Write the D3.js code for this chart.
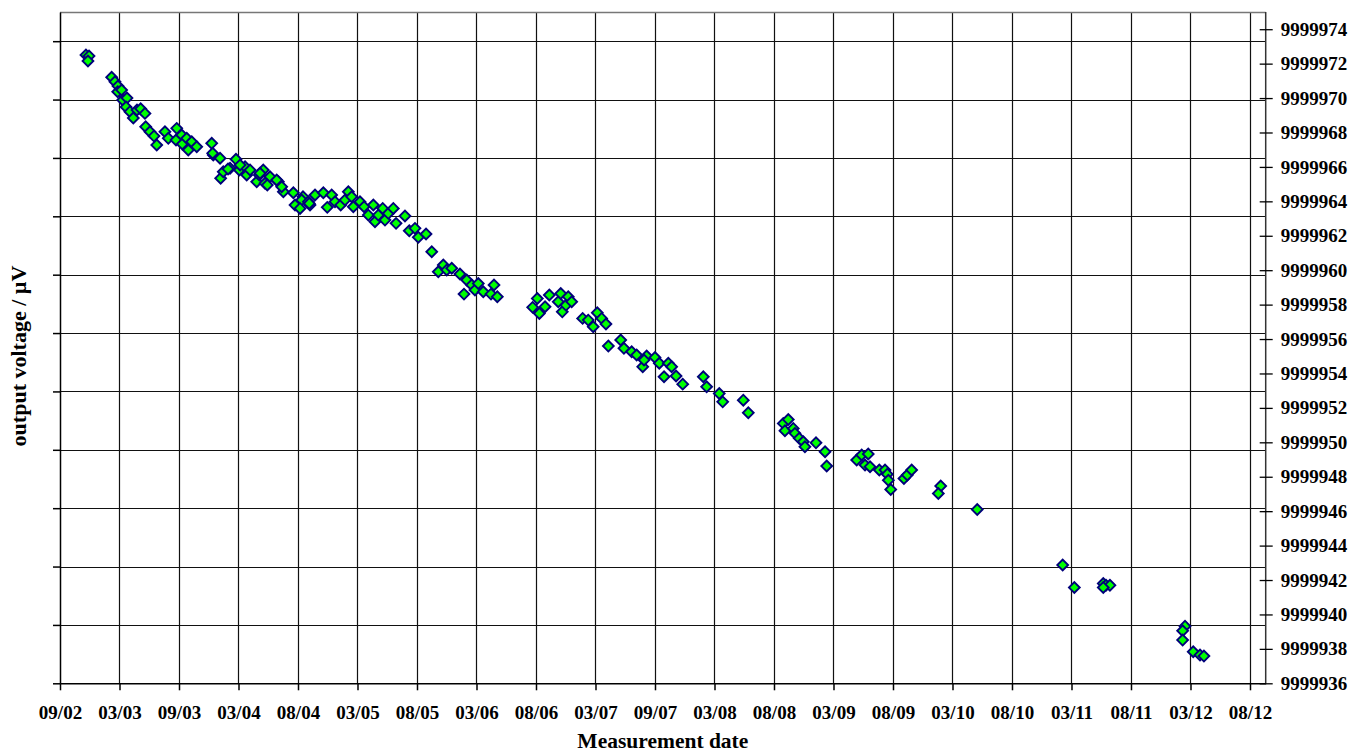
<!DOCTYPE html>
<html>
<head>
<meta charset="utf-8">
<script src="https://cdn.jsdelivr.net/npm/d3@7"></script>
<style>
  body { margin: 0; background: #fff; }
  text { font-family: "Liberation Serif", "Times New Roman", serif; font-weight: bold; fill: #000; }
</style>
</head>
<body>
<script>
// measurement dates as decimal years, and output voltage in µV
var measYear = [
  2002.885, 2002.911, 2002.902, 2003.101, 2003.129, 2003.154, 2003.152, 2003.185, 2003.194, 2003.230,
  2003.222, 2003.255, 2003.283, 2003.314, 2003.345, 2003.381, 2003.387, 2003.423, 2003.457, 2003.480,
  2003.549, 2003.577, 2003.648, 2003.642, 2003.690, 2003.695, 2003.732, 2003.745, 2003.774, 2003.816,
  2003.942, 2003.955, 2004.012, 2004.017, 2004.039, 2004.096, 2004.146, 2004.174, 2004.222, 2004.236,
  2004.320, 2004.342, 2004.390, 2004.375, 2004.432, 2004.502, 2004.544, 2004.530, 2004.628, 2004.709,
  2003.950, 2004.079, 2004.180, 2004.264, 2004.348, 2004.409, 2004.488, 2004.642, 2004.698, 2004.754,
  2004.768, 2004.810, 2004.684, 2004.762, 2004.880, 2004.913, 2004.950, 2004.978, 2005.026, 2005.062,
  2005.090, 2005.118, 2005.132, 2005.188, 2005.222, 2005.258, 2005.300, 2005.314, 2005.342, 2005.379,
  2005.398, 2005.426, 2005.468, 2005.491, 2005.566, 2005.602, 2005.650, 2005.678, 2005.743, 2005.791,
  2005.846, 2005.888, 2005.917, 2005.959, 2006.028, 2006.085, 2006.062, 2006.127, 2006.154, 2006.182,
  2006.224, 2006.289, 2006.314, 2006.342, 2006.639, 2006.678, 2006.695, 2006.743, 2006.779, 2006.854,
  2006.875, 2006.888, 2006.919, 2006.938, 2006.967, 2007.059, 2007.106, 2007.148, 2007.182, 2007.219,
  2007.255, 2007.275, 2007.379, 2007.406, 2007.471, 2007.513, 2007.564, 2007.597, 2007.575, 2007.667,
  2007.703, 2007.743, 2007.779, 2007.807, 2007.844, 2007.900, 2008.073, 2008.101, 2008.207, 2008.236,
  2008.409, 2008.451, 2008.745, 2008.787, 2008.759, 2008.829, 2008.843, 2008.879, 2008.913, 2008.927,
  2009.020, 2009.096, 2009.110, 2009.362, 2009.404, 2009.459, 2009.432, 2009.474, 2009.552, 2009.600,
  2009.619, 2009.628, 2009.648, 2009.759, 2009.787, 2009.824, 2010.068, 2010.048, 2010.375, 2011.093,
  2011.191, 2011.434, 2011.457, 2011.490, 2011.434, 2012.121, 2012.101, 2012.101, 2012.190, 2012.247,
  2012.280
];

var measVoltage = [
  9999972.50, 9999972.44, 9999972.15, 9999971.21, 9999970.95, 9999970.70, 9999970.37, 9999970.47, 9999969.89, 9999970.00,
  9999969.48, 9999969.21, 9999968.84, 9999969.31, 9999969.38, 9999969.11, 9999968.33, 9999968.04, 9999967.79, 9999967.27,
  9999968.04, 9999967.66, 9999968.24, 9999967.56, 9999967.85, 9999967.33, 9999967.66, 9999966.98, 9999967.46, 9999967.17,
  9999967.37, 9999966.69, 9999966.50, 9999965.34, 9999965.72, 9999965.92, 9999966.44, 9999965.82, 9999966.01, 9999965.53,
  9999965.14, 9999965.53, 9999965.05, 9999965.82, 9999965.43, 9999965.14, 9999964.56, 9999964.85, 9999964.50, 9999964.27,
  9999966.79, 9999965.88, 9999966.11, 9999965.82, 9999965.63, 9999964.95, 9999965.24, 9999963.79, 9999964.08, 9999963.98,
  9999963.79, 9999964.37, 9999963.59, 9999963.88, 9999964.50, 9999963.65, 9999964.37, 9999963.98, 9999963.79, 9999964.08,
  9999964.56, 9999964.27, 9999963.69, 9999963.98, 9999963.69, 9999963.20, 9999963.79, 9999962.81, 9999963.20, 9999963.59,
  9999962.91, 9999963.30, 9999963.59, 9999962.72, 9999963.15, 9999962.29, 9999962.43, 9999961.91, 9999962.10, 9999961.07,
  9999959.91, 9999960.30, 9999960.01, 9999960.11, 9999959.78, 9999959.43, 9999958.61, 9999959.14, 9999958.85, 9999959.23,
  9999958.75, 9999958.61, 9999959.14, 9999958.46, 9999957.84, 9999958.36, 9999957.49, 9999957.88, 9999958.56, 9999958.17,
  9999958.65, 9999957.58, 9999957.97, 9999958.46, 9999958.17, 9999957.20, 9999957.10, 9999956.71, 9999957.53, 9999957.20,
  9999956.87, 9999955.59, 9999955.94, 9999955.46, 9999955.26, 9999955.07, 9999954.39, 9999955.01, 9999954.78, 9999954.93,
  9999954.59, 9999953.81, 9999954.59, 9999954.39, 9999953.85, 9999953.38, 9999953.81, 9999953.23, 9999952.84, 9999952.35,
  9999952.45, 9999951.72, 9999951.10, 9999951.33, 9999950.67, 9999950.81, 9999950.52, 9999950.23, 9999950.03, 9999949.74,
  9999949.97, 9999949.45, 9999948.62, 9999948.97, 9999949.26, 9999949.32, 9999948.68, 9999948.58, 9999948.39, 9999948.39,
  9999948.15, 9999947.80, 9999947.26, 9999947.90, 9999948.10, 9999948.39, 9999947.46, 9999947.03, 9999946.10, 9999942.87,
  9999941.57, 9999941.80, 9999941.70, 9999941.70, 9999941.57, 9999939.32, 9999939.05, 9999938.51, 9999937.83, 9999937.64,
  9999937.58
];

// axis labels
var xTickLabels = ["09/02", "03/03", "09/03", "03/04", "08/04", "03/05", "08/05", "03/06", "08/06", "03/07",
  "09/07", "03/08", "08/08", "03/09", "08/09", "03/10", "08/10", "03/11", "08/11", "03/12", "08/12"];
var xStart = 2002.667, xEnd = 2012.799, xStep = 0.5;
var yMin = 9999936, yMax = 9999975, yStep = 2;
var xTitle = "Measurement date";
var yTitle = "output voltage / µV";

var data = measYear.map(function(d, i) { return {x: d, y: measVoltage[i]} });

var width = 1351, height = 752;
var plotLeft = 60, plotRight = 1265.7, plotTop = 12, plotBottom = 683.3;

var svg = d3.select("body").append("svg").attr("width", width).attr("height", height)

var x = d3.scaleLinear().domain([xStart, xEnd]).range([plotLeft, plotRight])
var y = d3.scaleLinear().domain([yMin, yMax]).range([plotBottom, plotTop])
// primary (left) axis only carries the gridlines, no labels
var yGrid = d3.scaleLinear().domain([0, 11.5]).range([plotBottom, plotTop])

var xTicks = xTickLabels.map(function(d, i) { return xStart + i * xStep })
var yTicks = d3.range(yMin, yMax, yStep)
var gridTicks = d3.range(0, 12)

// gridlines
svg.append("g").selectAll("line").data(gridTicks.slice(1)).join("line")
  .attr("x1", plotLeft).attr("x2", plotRight)
  .attr("y1", function(d) { return Math.round(yGrid(d)) + 0.5 })
  .attr("y2", function(d) { return Math.round(yGrid(d)) + 0.5 })
  .attr("stroke", "#111").attr("stroke-width", 1.2)

svg.append("g").selectAll("line").data(xTicks.slice(1)).join("line")
  .attr("x1", function(d) { return Math.round(x(d)) + 0.5 })
  .attr("x2", function(d) { return Math.round(x(d)) + 0.5 })
  .attr("y1", plotTop).attr("y2", plotBottom)
  .attr("stroke", "#111").attr("stroke-width", 1.2)

// top border
svg.append("line").attr("x1", plotLeft).attr("x2", plotRight)
  .attr("y1", plotTop + 0.5).attr("y2", plotTop + 0.5)
  .attr("stroke", "#777").attr("stroke-width", 1.5)

// left axis
var gLeft = svg.append("g").attr("transform", "translate(" + plotLeft + ",0)")
  .call(d3.axisLeft(yGrid).tickValues(gridTicks).tickSize(7).tickSizeOuter(0).tickFormat(""))
gLeft.selectAll("line, path").attr("stroke", "#000").attr("stroke-width", 1.5)

// bottom axis
var gBottom = svg.append("g").attr("transform", "translate(0," + plotBottom + ")")
  .call(d3.axisBottom(x).tickValues(xTicks).tickSize(7).tickSizeOuter(0)
    .tickFormat(function(d, i) { return xTickLabels[i] }))
gBottom.selectAll("line, path").attr("stroke", "#000").attr("stroke-width", 1.5)
gBottom.selectAll("text").attr("y", 22).attr("font-size", 19).attr("font-family", null)

// right axis with crossing ticks
svg.append("line").attr("x1", plotRight).attr("x2", plotRight).attr("y1", plotTop).attr("y2", plotBottom)
  .attr("stroke", "#333").attr("stroke-width", 1.5)
var gRight = svg.append("g").attr("transform", "translate(" + (plotRight - 6) + ",0)")
  .call(d3.axisRight(y).tickValues(yTicks).tickSize(13).tickPadding(8).tickFormat(d3.format("d")))
gRight.select(".domain").remove()
gRight.selectAll("line").attr("stroke", "#000").attr("stroke-width", 1.3)
gRight.selectAll("text").attr("font-size", 19).attr("font-family", null)

// markers
svg.append("g").selectAll("path").data(data).join("path")
  .attr("d", d3.symbol().type(d3.symbolSquare).size(58))
  .attr("transform", function(d) { return "translate(" + x(d.x) + "," + y(d.y) + ") rotate(45)" })
  .attr("fill", "#00ff00")
  .attr("stroke", "#00007a")
  .attr("stroke-width", 1.9)

// axis titles
svg.append("text").attr("x", (plotLeft + plotRight) / 2).attr("y", 748)
  .attr("text-anchor", "middle").attr("font-size", 21.5).text(xTitle)
svg.append("text").attr("transform", "translate(26,356) rotate(-90)")
  .attr("text-anchor", "middle").attr("font-size", 22).text(yTitle)
</script>
</body>
</html>
